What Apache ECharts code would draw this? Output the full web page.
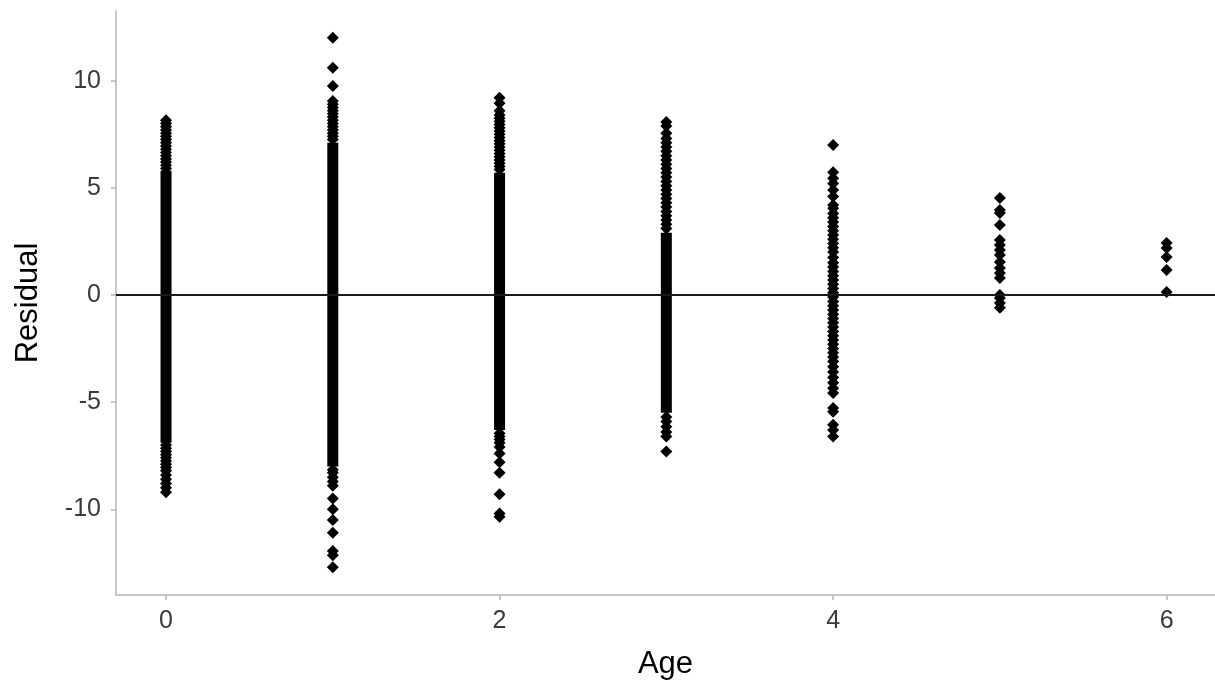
<!DOCTYPE html>
<html lang="en" style="height: 100%">
<head>
  <meta charset="utf-8" />
  <title>Residual vs Age</title>
</head>
<body style="height: 100%; margin: 0; background: #fff">
  <div id="container" style="width: 1215px; height: 686px"></div>

  <script type="text/javascript" src="https://fastly.jsdelivr.net/npm/echarts@6.0.0/dist/echarts.min.js"></script>
  <script type="text/javascript">
    // residuals, one list per age
    var ages = [0, 1, 2, 3, 4, 5, 6];
    var resid0 = [8.15, 8.0, 7.85, 7.7, 7.55, 7.4, 7.25, 7.1, 6.95, 6.8, 6.65, 6.5, 6.35, 6.2, 6.05, 5.9,
      -7.0, -7.15, -7.3, -7.45, -7.6, -7.75, -7.9, -8.05, -8.2, -8.4, -8.6, -8.8, -9.0, -9.2];
    var resid1 = [12.0, 10.6, 9.75, 9.05, 8.9, 8.75, 8.6, 8.45, 8.3, 8.15, 8.0, 7.85, 7.7, 7.55, 7.4, 7.25,
      -8.15, -8.3, -8.5, -8.7, -8.9, -9.5, -10.0, -10.5, -11.1, -11.95, -12.15, -12.7];
    var resid2 = [9.2, 8.95, 8.6, 8.4, 8.25, 8.1, 7.95, 7.8, 7.65, 7.5, 7.35, 7.2, 7.05, 6.9, 6.75, 6.6,
      6.45, 6.3, 6.15, 6.0, 5.85,
      -6.45, -6.6, -6.75, -6.9, -7.1, -7.4, -7.8, -8.3, -9.3, -10.2, -10.35];
    var resid3 = [8.07, 7.88, 7.55, 7.3, 7.1, 6.9, 6.7, 6.5, 6.3, 6.1, 5.9, 5.7, 5.5, 5.3, 5.1, 4.9, 4.7,
      4.5, 4.3, 4.1, 3.9, 3.7, 3.5, 3.3, 3.1,
      -5.7, -5.9, -6.15, -6.4, -6.6, -7.3];
    var resid4 = [7.0, 5.73, 5.45, 5.2, 4.9, 4.6, 4.2, 4.05, 3.8, 3.6, 3.4, 3.2, 3.0, 2.8, 2.6, 2.4, 2.2,
      2.0, 1.75, 1.5, 1.3, 1.1, 0.9, 0.7, 0.5, 0.3, 0.1, -0.1, -0.3, -0.5, -0.7, -0.9, -1.1, -1.3,
      -1.5, -1.7, -1.9, -2.1, -2.3, -2.5, -2.7, -2.9, -3.1, -3.35, -3.6, -3.85, -4.1, -4.35, -4.57,
      -5.27, -5.45, -6.06, -6.3, -6.6];
    var resid5 = [4.52, 3.96, 3.82, 3.26, 2.56, 2.33, 2.1, 1.86, 1.54, 1.26, 1.03, 0.79, 0, -0.14, -0.37, -0.6];
    var resid6 = [2.42, 2.19, 1.77, 1.17, 0.14];

    // where points are so dense they merge into a solid column
    var coreAges = [0, 1, 2, 3];
    var coreLow = [-6.9, -8.0, -6.3, -5.5];
    var coreHigh = [5.8, 7.1, 5.7, 2.9];

    var xTicks = [0, 2, 4, 6];
    var yTicks = [-10, -5, 0, 5, 10];

    var residByAge = [resid0, resid1, resid2, resid3, resid4, resid5, resid6];
    var points = [];
    ages.forEach(function (a, i) {
      residByAge[i].forEach(function (r) { points.push([a, r]); });
    });
    var cores = coreAges.map(function (a, i) { return [a, coreLow[i], coreHigh[i]]; });

    var myChart = echarts.init(document.getElementById('container'), null, { renderer: 'canvas' });

    var axisGrey = '#b5b5b5';
    var option = {
      backgroundColor: '#fff',
      animation: false,
      grid: { left: 116, right: 0, top: 11, bottom: 91, containLabel: false },
      xAxis: {
        type: 'value',
        min: -0.3,
        max: 6.29,
        name: 'Age',
        nameLocation: 'middle',
        nameGap: 54,
        nameTextStyle: { color: '#000', fontSize: 31, fontFamily: 'Liberation Sans' },
        axisLine: { onZero: false, lineStyle: { color: axisGrey, width: 1.5 } },
        axisTick: { show: true, length: 5, customValues: xTicks, lineStyle: { color: axisGrey, width: 1.5 } },
        axisLabel: { customValues: xTicks, margin: 14, color: '#3a3a3a', fontSize: 25, fontFamily: 'Liberation Sans' },
        splitLine: { show: false }
      },
      yAxis: {
        type: 'value',
        min: -14,
        max: 13.25,
        name: 'Residual',
        nameLocation: 'middle',
        nameGap: 72,
        nameTextStyle: { color: '#000', fontSize: 31, fontFamily: 'Liberation Sans' },
        axisLine: { show: true, onZero: false, lineStyle: { color: axisGrey, width: 1.5 } },
        axisTick: { show: true, length: 5, customValues: yTicks, lineStyle: { color: axisGrey, width: 1.5 } },
        axisLabel: { customValues: yTicks, margin: 15, color: '#3a3a3a', fontSize: 25, fontFamily: 'Liberation Sans' },
        splitLine: { show: false }
      },
      series: [
        {
          type: 'custom',
          z: 3,
          data: cores,
          renderItem: function (params, api) {
            var top = api.coord([api.value(0), api.value(2)]);
            var bot = api.coord([api.value(0), api.value(1)]);
            return {
              type: 'rect',
              shape: { x: top[0] - 5.5, y: top[1], width: 11, height: bot[1] - top[1] },
              style: { fill: '#000' }
            };
          },
          markLine: {
            silent: true,
            symbol: 'none',
            label: { show: false },
            lineStyle: { color: '#1a1a1a', width: 2, type: 'solid' },
            data: [{ yAxis: 0 }]
          }
        },
        {
          type: 'scatter',
          z: 4,
          symbol: 'diamond',
          symbolSize: [12, 12],
          itemStyle: { color: '#000', opacity: 1 },
          data: points
        }
      ]
    };

    myChart.setOption(option);
    window.addEventListener('resize', myChart.resize);
  </script>
</body>
</html>
